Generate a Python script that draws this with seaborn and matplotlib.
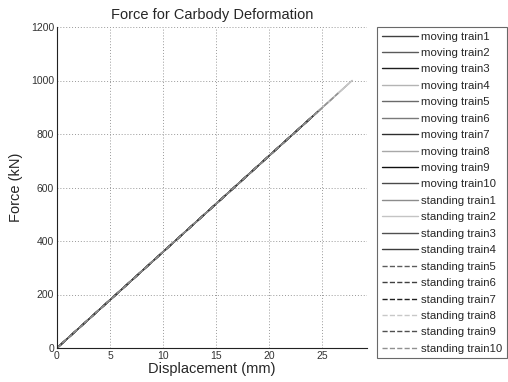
import matplotlib
matplotlib.use("Agg")
import matplotlib.pyplot as plt
import seaborn as sns
import pandas as pd

sns.set_style("white")
plt.rcParams['font.family'] = ['Liberation Sans', 'DejaVu Sans']

series_names = [f"moving train{i}" for i in range(1, 11)] + [f"standing train{i}" for i in range(1, 11)]
# end displacement (mm) and end force (kN) of each series (linear from origin)
end_disp = [24.5, 25.0, 24.0, 27.8, 23.5, 24.8, 24.2, 27.5, 24.4, 23.8,
            26.0, 27.8, 24.6, 24.3, 23.0, 23.6, 24.5, 27.6, 23.9, 26.5]
end_force = [881, 899, 863, 1000, 845, 892, 870, 989, 878, 856,
             935, 1000, 885, 874, 827, 849, 881, 993, 860, 953]
start_disp = [0.0] * 20
start_force = [0.0] * 20

colors = ["#404040", "#5a5a5a", "#1e1e1e", "#b4b4b4", "#6a6a6a", "#7a7a7a", "#2e2e2e", "#a8a8a8", "#101010", "#4a4a4a",
          "#8c8c8c", "#c4c4c4", "#505050", "#3c3c3c", "#5c5c5c", "#404040", "#202020", "#c8c8c8", "#505050", "#909090"]
styles = ["-"] * 14 + ["--"] * 6

rows = []
for n, sd, sf, ed, ef in zip(series_names, start_disp, start_force, end_disp, end_force):
    rows.append({"series": n, "disp": sd, "force": sf})
    rows.append({"series": n, "disp": ed, "force": ef})
df = pd.DataFrame(rows)

fig = plt.figure(figsize=(5.08, 3.82), dpi=100)
ax = fig.add_axes([57/508, 1 - 348/382, (367-57)/508, (348-27)/382])

for n, c, ls in zip(series_names, colors, styles):
    sns.lineplot(data=df[df.series == n], x="disp", y="force", ax=ax, color=c,
                 linestyle=ls, linewidth=1.0, label=n)

ax.set_xlim(0, 29.2)
ax.set_ylim(0, 1200)
ax.set_xticks([0, 5, 10, 15, 20, 25])
ax.set_yticks([0, 200, 400, 600, 800, 1000, 1200])
ax.grid(True, linestyle=(0, (1, 2)), color="#999999", linewidth=0.7)
for s in ["top", "right"]:
    ax.spines[s].set_visible(False)
for s in ["left", "bottom"]:
    ax.spines[s].set_color("#222222")
    ax.spines[s].set_linewidth(0.8)
ax.tick_params(axis="both", labelsize=7.5, direction="in", length=3, pad=2, colors="#222222",
               labelcolor="#333333")
ax.set_xlabel("Displacement (mm)", fontsize=10.5, labelpad=1)
ax.set_ylabel("Force (kN)", fontsize=10.5, labelpad=6)
ax.set_title("Force for Carbody Deformation", fontsize=10.5, pad=6)

leg = ax.legend(loc="upper left", bbox_to_anchor=(377/508, 1 - 27/382), bbox_transform=fig.transFigure,
                fontsize=8.2, frameon=True, fancybox=False, edgecolor="#444444",
                handlelength=3.2, handletextpad=0.3, labelspacing=0.565, borderpad=0.4, borderaxespad=0)
leg.get_frame().set_linewidth(0.8)

fig.savefig("out.png", dpi=100)
